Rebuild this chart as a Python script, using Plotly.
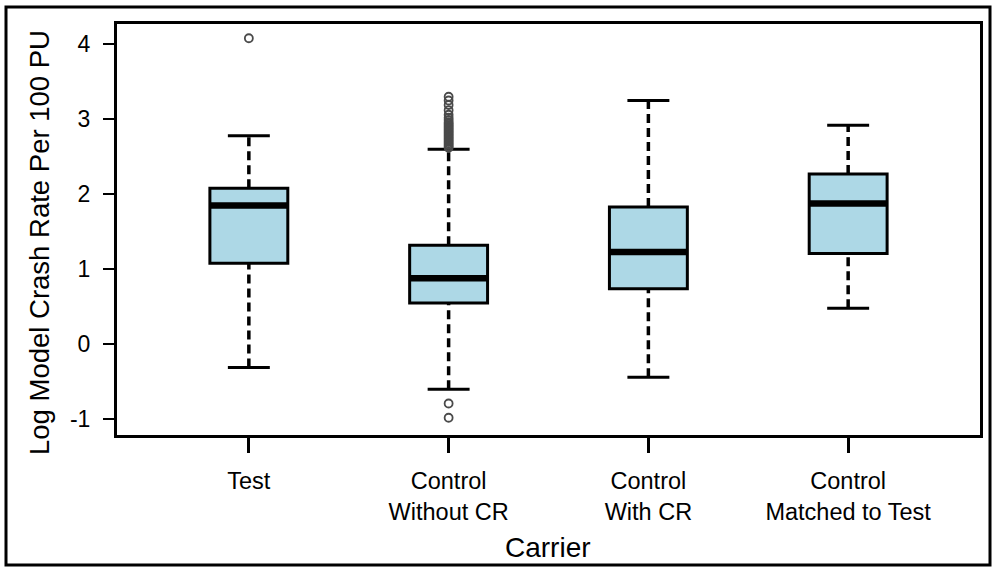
import plotly.graph_objects as go

categories = ["Test", "Control<br>Without CR", "Control<br>With CR", "Control<br>Matched to Test"]
positions = [1, 2, 3, 4]
lower_whisker = [-0.31, -0.60, -0.44, 0.48]
q1 = [1.08, 0.55, 0.74, 1.21]
median = [1.85, 0.88, 1.23, 1.875]
q3 = [2.08, 1.32, 1.83, 2.27]
upper_whisker = [2.78, 2.60, 3.25, 2.92]
outliers = [
    [4.08],
    [3.30, 3.25, 3.19, 3.12, 3.06, 3.02, 2.99, 2.96, 2.94, 2.92, 2.90, 2.88, 2.86,
     2.84, 2.82, 2.80, 2.78, 2.76, 2.74, 2.72, 2.70, 2.68, 2.66, 2.64, 2.62,
     -0.79, -0.98],
    [],
    [],
]
y_ticks = [-1, 0, 1, 2, 3, 4]

box_width = 0.39
cap_width = 0.21
box_color = "#ADD8E6"
font_family = "Liberation Sans, Arial, sans-serif"

fig = go.Figure()

# whiskers (dashed)
for p, lo, a, b, hi in zip(positions, lower_whisker, q1, q3, upper_whisker):
    fig.add_trace(go.Scatter(x=[p, p, None, p, p], y=[lo, a, None, b, hi], mode="lines",
                             line=dict(color="black", width=3.5, dash="9px,5px"),
                             showlegend=False, hoverinfo="skip"))
    fig.add_trace(go.Scatter(x=[p - cap_width / 2, p + cap_width / 2, None,
                                p - cap_width / 2, p + cap_width / 2],
                             y=[lo, lo, None, hi, hi], mode="lines",
                             line=dict(color="black", width=3),
                             showlegend=False, hoverinfo="skip"))

# boxes
fig.add_trace(go.Bar(x=positions, base=q1, y=[b - a for a, b in zip(q1, q3)],
                     width=box_width, marker=dict(color=box_color, line=dict(color="black", width=3)),
                     showlegend=False, hoverinfo="skip"))

# medians
for p, m in zip(positions, median):
    fig.add_trace(go.Scatter(x=[p - box_width / 2, p + box_width / 2], y=[m, m], mode="lines",
                             line=dict(color="black", width=6.5),
                             showlegend=False, hoverinfo="skip"))

# outliers
for p, outs in zip(positions, outliers):
    if outs:
        fig.add_trace(go.Scatter(x=[p] * len(outs), y=outs, mode="markers",
                                 marker=dict(symbol="circle-open", size=8, color="#4a4a4a",
                                             line=dict(width=1.8, color="#4a4a4a")),
                                 showlegend=False, hoverinfo="skip"))

fig.update_layout(
    width=997, height=569,
    margin=dict(l=117, r=17, t=24, b=134),
    paper_bgcolor="white", plot_bgcolor="white",
    font=dict(family=font_family, size=23, color="black"),
    barmode="overlay",
    xaxis=dict(range=[0.34, 4.66], tickvals=positions, ticktext=categories,
               showgrid=False, zeroline=False, showline=True, mirror=True,
               linecolor="black", linewidth=3, ticks="outside", ticklen=15,
               tickwidth=2.5, tickcolor="black", ticklabelstandoff=8,
               tickfont=dict(size=23.5)),
    yaxis=dict(range=[-1.21, 4.27], tickvals=y_ticks, ticktext=[str(v) for v in y_ticks],
               showgrid=False, zeroline=False, showline=True, mirror=True,
               linecolor="black", linewidth=3, ticks="outside", ticklen=11,
               tickwidth=2, tickcolor="black", ticklabelstandoff=8,
               tickfont=dict(size=23)),
    annotations=[
        dict(text="Carrier", xref="paper", yref="paper", x=(548 - 117) / 863,
             y=(435 - 547) / 411, showarrow=False, font=dict(size=28),
             xanchor="center", yanchor="middle"),
        dict(text="Log Model Crash Rate Per 100 PU", xref="paper", yref="paper",
             x=(39 - 117) / 863, y=(435 - 243) / 411, textangle=-90, showarrow=False,
             font=dict(size=27.5), xanchor="center", yanchor="middle"),
    ],
    shapes=[
        dict(type="rect", xref="paper", yref="paper",
             x0=(6 - 117) / 863, x1=(990 - 117) / 863,
             y0=(435 - 565) / 411, y1=(435 - 7) / 411,
             line=dict(color="black", width=3), fillcolor="rgba(0,0,0,0)", layer="above"),
    ],
)

fig.write_html("out.html", config={"displayModeBar": False},
               post_script="document.body.style.margin='0';document.body.style.overflow='hidden';")
